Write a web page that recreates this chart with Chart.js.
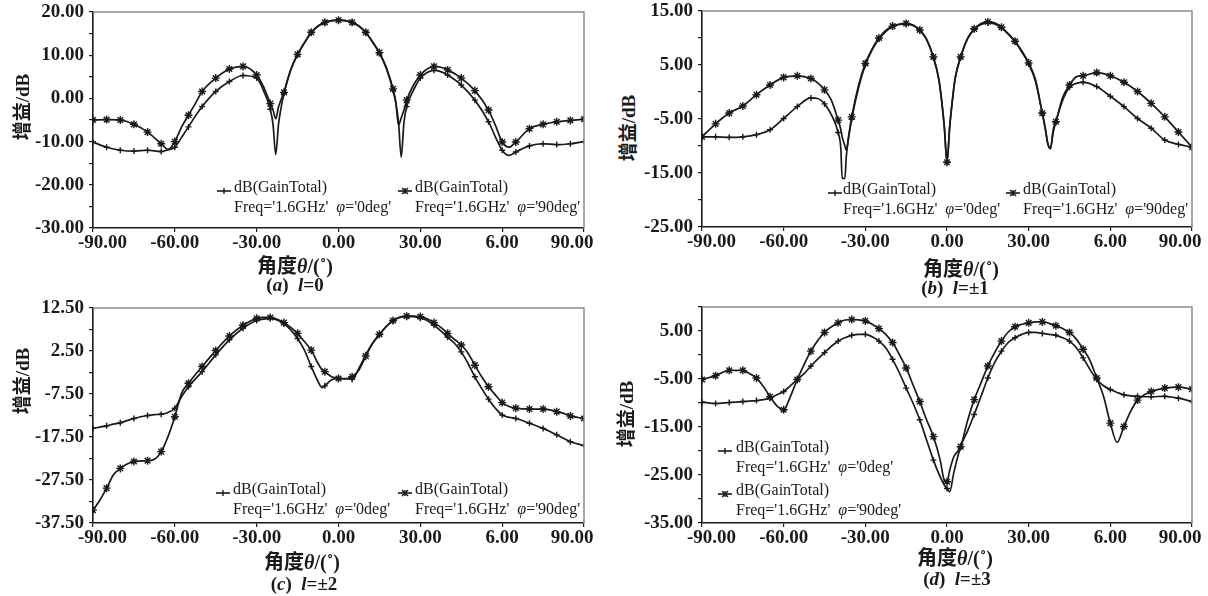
<!DOCTYPE html>
<html><head><meta charset="utf-8">
<script src="https://cdn.jsdelivr.net/npm/chart.js@4.4.1/dist/chart.umd.min.js"></script>
<style>
html,body{margin:0;padding:0;background:#fff;}
body{width:1208px;height:596px;position:relative;overflow:hidden;font-family:'Liberation Serif',serif;color:#1a1a1a;}
canvas{position:absolute;}
.t{position:absolute;white-space:nowrap;transform:translate(-50%,-50%);}
.ytitle{font-size:19px;font-weight:bold;font-family:'Liberation Serif','Noto Sans CJK SC',serif;transform:translate(-50%,-50%) rotate(-90deg);}
.xtitle{font-size:20px;font-weight:bold;font-family:'Liberation Serif','Noto Sans CJK SC',serif;}
.cap{font-size:19px;font-weight:bold;}
.leg{position:absolute;font-size:16px;line-height:19.5px;white-space:nowrap;}
.mk{position:absolute;}
</style>
</head><body>
<canvas id="cA" width="612" height="256" style="left:0;top:0"></canvas>
<canvas id="cB" width="568" height="256" style="left:640px;top:0"></canvas>
<canvas id="cC" width="612" height="256" style="left:0;top:296px"></canvas>
<canvas id="cD" width="568" height="256" style="left:640px;top:296px"></canvas>

<div class="t ytitle" style="left:20px;top:107px">增益/dB</div>
<div class="t ytitle" style="left:626px;top:128px">增益/dB</div>
<div class="t ytitle" style="left:20px;top:381px">增益/dB</div>
<div class="t ytitle" style="left:624px;top:414px">增益/dB</div>

<div class="t xtitle" style="left:295px;top:264px">角度<i>θ</i>/(˚)</div>
<div class="t xtitle" style="left:961px;top:267px">角度<i>θ</i>/(˚)</div>
<div class="t xtitle" style="left:302px;top:560px">角度<i>θ</i>/(˚)</div>
<div class="t xtitle" style="left:955px;top:556px">角度<i>θ</i>/(˚)</div>

<div class="t cap" style="left:295px;top:285px">(<i>a</i>)&nbsp;&nbsp;<i>l</i>=0</div>
<div class="t cap" style="left:955px;top:288px">(<i>b</i>)&nbsp;&nbsp;<i>l</i>=±1</div>
<div class="t cap" style="left:304px;top:584px">(<i>c</i>)&nbsp;&nbsp;<i>l</i>=±2</div>
<div class="t cap" style="left:957px;top:579px">(<i>d</i>)&nbsp;&nbsp;<i>l</i>=±3</div>

<div id="legends"></div>

<script>
// ---------- data ----------
const xTickLabels = ['-90.00','-60.00','-30.00','0.00','30.00','6.00','90.00'];
const seriesNames = ["dB(GainTotal)", "dB(GainTotal)"];
const seriesSub = ["Freq='1.6GHz'", "Freq='1.6GHz'"];
const seriesPhi = ["'0deg'", "'90deg'"];

const thetaA = [-90,-85,-80,-75,-70,-65,-62.5,-60,-57.5,-55,-52.5,-50,-45,-40,-35,-30,-27.5,-25,-24,-23,-22,-21,-20,-17.5,-15,-12.5,-10,-7.5,-5,-2.5,0,2.5,5,7.5,10,12.5,15,17.5,20,21,22,23,24,25,27.5,30,32.5,35,37.5,40,45,50,55,57.5,60,62.5,65,70,75,80,85,90];
const gainA0 = [-10.1,-11.3,-12.0,-12.2,-12.0,-12.3,-11.9,-11.3,-9.0,-6.6,-4.1,-1.9,1.6,3.9,5.3,4.7,1.8,-2.5,-6.0,-13.0,-6.0,-2.0,1.2,6.6,10.1,12.8,15.2,16.7,17.5,18.0,18.1,18.0,17.5,16.7,15.2,13.0,10.5,7.0,1.9,-1.0,-5.5,-13.6,-5.5,-1.9,1.9,4.7,6.0,6.5,6.2,5.4,3.1,-0.4,-5.4,-8.9,-12.0,-13.2,-12.4,-11.0,-10.5,-10.7,-10.5,-10.0];
const gainA90 = [-5.0,-4.9,-5.0,-6.0,-7.8,-10.5,-11.8,-10.0,-6.6,-3.9,-1.2,1.6,4.7,6.8,7.4,5.4,2.7,-1.2,-2.7,-4.7,-2.0,-0.2,1.4,6.7,10.2,12.9,15.3,16.8,17.6,18.0,18.1,18.0,17.6,16.8,15.3,13.1,10.6,7.2,2.2,-0.8,-6.2,-4.5,-2.7,-0.4,3.1,5.4,6.8,7.4,7.2,6.6,4.7,1.8,-2.7,-6.2,-10.1,-11.3,-10.1,-7.0,-6.0,-5.4,-5.1,-4.8];

const thetaB = [-90,-85,-80,-75,-70,-65,-60,-55,-50,-47.5,-45,-42.5,-40,-39,-38.5,-37.5,-37,-36,-35,-32.5,-30,-27.5,-25,-22.5,-20,-17.5,-15,-12.5,-10,-7.5,-5,-3,-2,-1,0,1,2,3,5,7.5,10,12.5,15,17.5,20,22.5,25,27.5,30,32.5,35,36,37,38,39,40,42.5,45,47.5,50,55,60,65,70,75,80,85,90];
const gainB0 = [-8.3,-8.3,-8.4,-8.3,-7.9,-7.0,-4.9,-2.7,-1.1,-1.2,-2.2,-4.2,-7.5,-10.5,-16.0,-16.0,-12.0,-8.0,-5.0,0.8,5.0,7.8,9.8,11.2,12.1,12.5,12.6,12.3,11.4,9.7,6.4,2.3,-1.5,-6.4,-13.0,-6.4,-1.5,2.5,6.4,9.8,11.6,12.5,12.8,12.6,11.9,10.7,9.3,7.4,5.2,2.0,-4.0,-6.5,-9.5,-10.5,-7.5,-5.5,-1.5,0.9,1.6,1.8,1.0,-0.8,-2.7,-4.9,-6.7,-8.9,-9.7,-10.2];
const gainB90 = [-8.3,-5.9,-3.9,-2.6,-0.5,1.3,2.7,3.0,2.5,1.7,0.4,-1.5,-5.2,-7.0,-8.3,-10.0,-10.8,-7.7,-4.6,1.2,5.3,8.0,10.0,11.4,12.2,12.6,12.7,12.4,11.5,9.8,6.5,2.4,-1.4,-6.3,-13.0,-6.3,-1.4,2.6,6.5,9.9,11.7,12.7,13.0,12.8,12.0,10.8,9.4,7.6,5.4,2.3,-3.9,-6.4,-9.5,-10.5,-7.0,-5.5,-1.0,1.3,2.8,3.0,3.6,3.0,1.8,0.1,-2.1,-4.6,-7.4,-10.2];

const thetaC = [-90,-87.5,-85,-82.5,-80,-77.5,-75,-70,-67.5,-65,-62.5,-60,-57.5,-55,-50,-45,-40,-35,-30,-27.5,-25,-22.5,-20,-17.5,-15,-12.5,-10,-7.5,-6,-5,-2.5,0,2.5,5,7.5,10,12.5,15,17.5,20,22.5,25,27.5,30,32.5,35,37.5,40,42.5,45,47.5,50,52.5,55,57.5,60,62.5,65,70,75,77.5,80,82.5,85,90];
const gainC0 = [-15.5,-15.2,-14.9,-14.5,-14.2,-13.7,-13.2,-12.5,-12.3,-12.2,-11.8,-10.8,-8.1,-5.8,-2.3,1.6,5.1,7.8,9.6,9.9,10.1,9.7,8.8,7.4,5.4,2.7,-1.1,-4.6,-6.0,-5.6,-4.2,-3.9,-3.9,-4.1,-1.5,1.6,4.3,6.2,8.2,9.5,10.3,10.5,10.5,10.1,9.6,8.5,7.2,5.7,4.3,2.3,-0.4,-3.5,-6.2,-8.7,-10.8,-12.4,-12.9,-13.2,-14.3,-15.5,-16.2,-17.0,-17.8,-18.6,-19.5];
const gainC90 = [-34.5,-32.2,-29.4,-26.3,-24.8,-23.8,-23.2,-23.0,-22.7,-20.9,-17.4,-12.8,-7.3,-5.0,-1.1,2.6,6.0,8.5,10.1,10.3,10.3,9.9,9.1,8.0,6.6,4.7,2.7,-0.4,-1.9,-2.3,-3.5,-3.9,-4.0,-3.5,-1.9,1.3,4.3,6.4,8.2,9.6,10.4,10.6,10.6,10.5,10.0,9.1,8.0,6.6,5.2,3.9,2.0,-0.8,-3.5,-5.8,-7.7,-9.5,-10.4,-10.8,-11.0,-11.0,-11.2,-11.6,-12.0,-12.6,-13.2];

const thetaD = [-90,-85,-80,-75,-72.5,-70,-67.5,-65,-62.5,-60,-57.5,-55,-52.5,-50,-45,-40,-37.5,-35,-32.5,-30,-27.5,-25,-22.5,-20,-17.5,-15,-12.5,-10,-7.5,-5,-2.5,-1,0,1,2.5,5,7.5,10,12.5,15,17.5,20,22.5,25,27.5,30,32.5,35,37.5,40,42.5,45,47.5,50,52.5,55,57.5,60,62.5,65,67.5,70,72.5,75,80,85,90];
const gainD0 = [-9.8,-10.1,-9.9,-9.7,-9.6,-9.5,-9.3,-9.0,-8.3,-7.6,-6.4,-5.1,-3.9,-2.3,0.5,2.9,3.6,4.1,4.3,4.3,3.8,2.9,1.5,-0.9,-3.7,-6.9,-10.0,-13.5,-17.7,-21.9,-25.4,-27.1,-27.8,-28.5,-24.5,-19.1,-15.9,-12.4,-8.6,-4.8,-1.6,0.8,2.6,3.6,4.3,4.7,4.7,4.5,4.3,4.1,3.6,2.9,1.5,-0.6,-3.0,-5.1,-6.4,-7.2,-7.8,-8.3,-8.5,-8.6,-8.7,-8.7,-8.6,-9.0,-9.7];
const gainD90 = [-5.1,-4.3,-3.2,-3.2,-3.9,-4.8,-6.5,-8.7,-10.6,-11.4,-8.6,-5.1,-2.0,0.8,4.7,6.7,7.3,7.4,7.3,7.1,6.4,5.5,4.3,2.6,0.1,-2.7,-6.2,-9.7,-13.5,-17.0,-21.9,-26.1,-26.4,-24.0,-21.2,-19.1,-13.8,-9.3,-5.8,-2.3,0.5,2.9,4.8,5.9,6.4,6.7,6.9,6.9,6.6,6.1,5.5,4.7,3.3,1.2,-1.1,-4.8,-8.6,-14.2,-18.2,-14.9,-11.7,-9.4,-8.3,-7.6,-6.9,-6.7,-7.1];

const yRangeA = [-30, 20], yRangeB = [-25, 15], yRangeC = [-37.5, 12.5], yRangeD = [-35, 10];

// ---------- drawing ----------
const INK = '#1a1a1a';
const tickFont = {family:"'Liberation Serif', serif", size:19, weight:'bold'};

const framePlugin = {
  id:'frame',
  afterDraw(chart){
    const {ctx, chartArea:a} = chart;
    ctx.save();
    ctx.strokeStyle = '#8c8c8c';
    ctx.lineWidth = 1.5;
    ctx.beginPath();
    ctx.moveTo(a.left, a.top); ctx.lineTo(a.right, a.top); ctx.lineTo(a.right, a.bottom);
    ctx.stroke();
    ctx.restore();
  }
};

function makeChart(id, theta, g0, g90, yRange, box){
  const pts = arr => theta.map((t,i)=>({x:t, y:arr[i]}));
  const marker = r => (c => (c.raw && Number.isInteger(c.raw.x/5)) ? r : 0);
  const ds = (label, arr, style, r) => ({
    label, data: pts(arr), borderColor: INK, borderWidth: 1.7,
    backgroundColor: INK, pointStyle: style, pointRadius: marker(r),
    pointBorderColor: INK, pointBorderWidth: 1.4, pointHoverRadius: 0,
    cubicInterpolationMode: 'monotone', fill: false
  });
  const [yMin, yMax] = yRange;
  new Chart(document.getElementById(id), {
    type: 'line',
    data: { datasets: [
      ds("φ='0deg'", g0, 'cross', 3),
      ds("φ='90deg'", g90, 'star', 4)
    ]},
    options: {
      responsive:false, animation:false, devicePixelRatio:1,
      layout:{ padding: box.pad },
      plugins:{ legend:{display:false}, tooltip:{enabled:false}, title:{display:false} },
      scales:{
        x:{
          type:'linear', min:-90, max:90,
          afterFit(s){ s.height = box.xH; s.paddingLeft = 0; s.paddingRight = 0; },
          ticks:{ stepSize:30, autoSkip:false, maxRotation:0, padding:0, color:INK, font:tickFont,
            callback:(v,i,ticks)=>{
              const s = xTickLabels[i];
              if (i === 0) return '\u00a0'.repeat(4) + s;
              if (i === ticks.length-1) return s + '\u00a0'.repeat(5);
              return s;
            }},
          grid:{ drawOnChartArea:false, drawTicks:true, tickLength:4, color:INK, lineWidth:1.2 },
          border:{ display:true, color:INK, width:1.6 }
        },
        y:{
          type:'linear', min:yMin, max:yMax,
          afterFit(s){ s.width = box.yW; s.paddingTop = 0; s.paddingBottom = 0; },
          afterBuildTicks(s){
            const t = [];
            for (let v = yMin; v <= yMax + 1e-9; v += 5) t.push({value:v});
            s.ticks = t;
          },
          ticks:{ autoSkip:false, padding:5, color:INK, font:tickFont,
            callback:(v)=> Math.abs(((v - yMin) % 10)) < 1e-6 ? v.toFixed(2) : '' },
          grid:{ drawOnChartArea:false, drawTicks:true, tickLength:4, color:INK, lineWidth:1.2 },
          border:{ display:true, color:INK, width:1.6 }
        }
      }
    },
    plugins:[framePlugin]
  });
}

makeChart('cA', thetaA, gainA0, gainA90, yRangeA, {pad:{top:12,left:0,right:28,bottom:0}, yW:93, xH:28});
makeChart('cB', thetaB, gainB0, gainB90, yRangeB, {pad:{top:11,left:0,right:16,bottom:0}, yW:62, xH:29});
makeChart('cC', thetaC, gainC0, gainC90, yRangeC, {pad:{top:12,left:0,right:28,bottom:0}, yW:93, xH:29});
makeChart('cD', thetaD, gainD0, gainD90, yRangeD, {pad:{top:11,left:0,right:16,bottom:0}, yW:62, xH:29});

// ---------- legends (text + sample markers) ----------
function markerSVG(kind){
  let s = '<svg width="14" height="10" viewBox="0 0 14 10"><line x1="0" y1="5" x2="14" y2="5" stroke="'+INK+'" stroke-width="1.6"/>';
  s += '<line x1="7" y1="2" x2="7" y2="8" stroke="'+INK+'" stroke-width="1.4"/>';
  if (kind === 1) s += '<line x1="4" y1="2" x2="10" y2="8" stroke="'+INK+'" stroke-width="1.4"/><line x1="10" y1="2" x2="4" y2="8" stroke="'+INK+'" stroke-width="1.4"/>';
  return s + '</svg>';
}
const legendPos = [
  [[217,234,187],[398,415,187]],
  [[828,843,189],[1006,1023,189]],
  [[216,233,489],[398,415,489]],
  [[718,736,447],[718,736,490]]
];
const host = document.getElementById('legends');
legendPos.forEach(panel => panel.forEach((p,k) => {
  const [mx, tx, cy] = p;
  const m = document.createElement('div');
  m.className = 'mk'; m.style.left = mx+'px'; m.style.top = (cy-5)+'px';
  m.innerHTML = markerSVG(k);
  host.appendChild(m);
  const d = document.createElement('div');
  d.className = 'leg'; d.style.left = tx+'px'; d.style.top = (cy-9.75)+'px';
  d.innerHTML = seriesNames[k] + '<br>' + seriesSub[k] + '&nbsp;&nbsp;<i>φ</i>=' + seriesPhi[k];
  host.appendChild(d);
}));
</script>
</body></html>
